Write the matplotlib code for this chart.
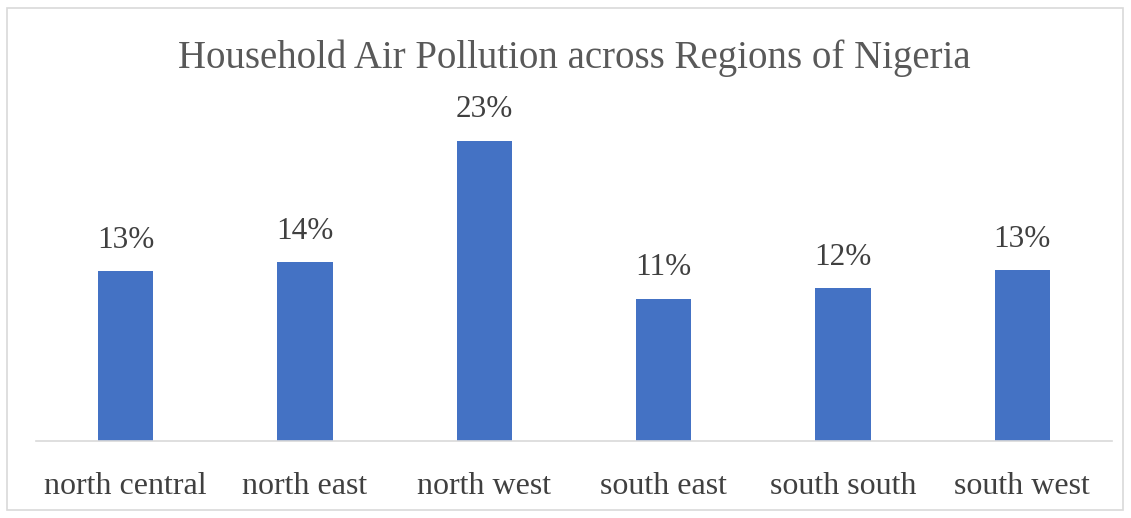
import matplotlib.pyplot as plt
from matplotlib.patches import Rectangle

# --- data ---
regions = ['north central', 'north east', 'north west',
           'south east', 'south south', 'south west']
share = [13.0, 13.7, 23.0, 10.9, 11.7, 13.1]   # percent

plt.rcParams['font.family'] = ['Liberation Serif', 'DejaVu Serif']

fig = plt.figure(figsize=(11.31, 5.18), dpi=100)

# light grey frame around the chart
fig.patches.append(Rectangle((7 / 1131, 8 / 518), 1116 / 1131, 502 / 518,
                             transform=fig.transFigure, fill=False,
                             edgecolor='#d9d9d9', linewidth=1.2))

ax = fig.add_axes([36 / 1131, 77 / 518, 1076 / 1131, 326 / 518])
x = range(len(regions))
bars = ax.bar(x, share, width=0.31, color='#4472C4')

ax.set_xlim(-0.5, len(regions) - 0.5)
ax.set_ylim(0, 25)
ax.set_xticks(list(x))
ax.set_xticklabels(regions, fontsize=23, color='#404040')
ax.tick_params(axis='x', length=0, pad=22)
ax.set_yticks([])

for s in ['top', 'right', 'left']:
    ax.spines[s].set_visible(False)
ax.spines['bottom'].set_color('#d9d9d9')
ax.spines['bottom'].set_linewidth(1.2)

for b, v in zip(bars, share):
    ax.annotate(f'{round(v)}%', (b.get_x() + b.get_width() / 2, v),
                xytext=(0, 12), textcoords='offset points',
                ha='center', va='bottom', fontsize=22.5, color='#404040')

fig.text(0.508, 0.868, 'Household Air Pollution across Regions of Nigeria',
         ha='center', va='baseline', fontsize=28, color='#595959')

fig.savefig('out.png', dpi=100)
